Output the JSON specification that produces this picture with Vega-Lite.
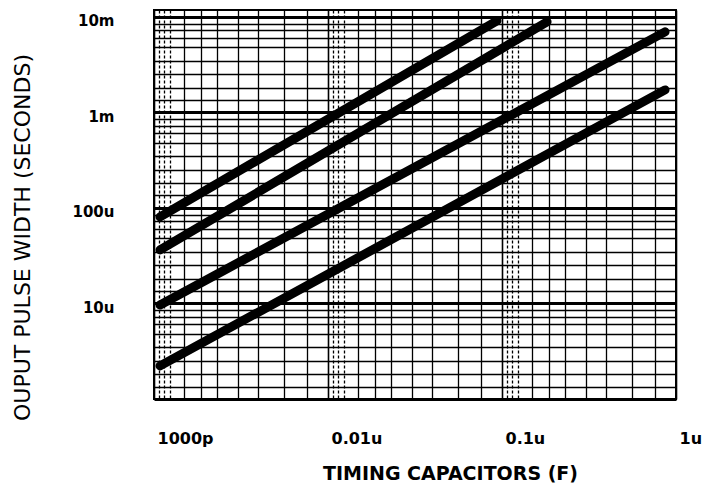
{
  "$schema": "https://vega.github.io/schema/vega-lite/v6.json",
  "width": 522,
  "height": 389,
  "autosize": {"type": "none"},
  "padding": {"left": 154, "top": 10, "right": 28, "bottom": 94},
  "background": "white",
  "config": {"view": {"stroke": "black", "strokeWidth": 2}},
  "data": {
    "values": [
      {"series": "A", "c": 1.083e-9, "t": 8.05e-5},
      {"series": "A", "c": 9.35e-8, "t": 9.08e-3},
      {"series": "B", "c": 1.083e-9, "t": 3.63e-5},
      {"series": "B", "c": 1.815e-7, "t": 8.87e-3},
      {"series": "C", "c": 1.083e-9, "t": 9.64e-6},
      {"series": "C", "c": 8.65e-7, "t": 6.97e-3},
      {"series": "D", "c": 1.083e-9, "t": 2.22e-6},
      {"series": "D", "c": 8.65e-7, "t": 1.72e-3}
    ]
  },
  "mark": {"type": "line", "color": "black", "strokeWidth": 9, "strokeCap": "round"},
  "encoding": {
    "detail": {"field": "series"},
    "x": {
      "field": "c",
      "type": "quantitative",
      "scale": {"type": "log", "domain": [1e-9, 1e-6], "nice": false},
      "axis": {
        "values": [1e-9, 1.072e-9, 1.148e-9, 1.23e-9, 1.479e-9, 1.862e-9, 2.291e-9, 3.02e-9, 3.98e-9, 5.56e-9, 7.59e-9,
                   1e-8, 1.072e-8, 1.148e-8, 1.23e-8, 1.479e-8, 1.862e-8, 2.291e-8, 3.02e-8, 3.98e-8, 5.56e-8, 7.59e-8,
                   1e-7, 1.072e-7, 1.148e-7, 1.23e-7, 1.479e-7, 1.862e-7, 2.291e-7, 3.02e-7, 3.98e-7, 5.56e-7, 7.59e-7,
                   1e-6],
        "title": "TIMING CAPACITORS (F)",
        "titleFont": "DejaVu Sans",
        "titleFontWeight": "bold",
        "titleFontSize": 19,
        "titleColor": "black",
        "titleX": 296,
        "titleY": 74,
        "titleBaseline": "middle",
        "titleAlign": "center",
        "labelExpr": "abs(log(datum.value)/LN10 - round(log(datum.value)/LN10)) < 0.003 ? (round(log(datum.value)/LN10) == -9 ? '1000p' : round(log(datum.value)/LN10) == -8 ? '0.01u' : round(log(datum.value)/LN10) == -7 ? '0.1u' : '1u') : ''",
        "labelFont": "DejaVu Sans",
        "labelFontWeight": "bold",
        "labelFontSize": 16,
        "labelColor": "black",
        "labelAlign": "left",
        "labelBaseline": "middle",
        "labelPadding": 39,
        "labelOffset": 3,
        "labelOverlap": false,
        "labelBound": false,
        "labelFlush": false,
        "ticks": false,
        "domain": false,
        "grid": true,
        "gridOpacity": 1,
        "gridColor": "black",
        "gridWidth": {"condition": {"test": "abs(log(datum.value)/LN10 - round(log(datum.value)/LN10)) < 0.003", "value": 1.6}, "value": 1.3},
        "gridDash": {"condition": {"test": "abs(log(datum.value)/LN10 - round(log(datum.value)/LN10)) >= 0.003 && datum.value / pow(10, floor(log(datum.value)/LN10 + 0.003)) < 1.3", "value": [3, 2]}, "value": []}
      }
    },
    "y": {
      "field": "t",
      "type": "quantitative",
      "scale": {"type": "log", "domain": [1e-6, 1.18e-2], "nice": false},
      "axis": {
        "values": [1e-6,
                   1.35e-6, 1.82e-6, 2.51e-6, 3.47e-6, 4.79e-6, 6.03e-6, 7.24e-6, 8.51e-6, 1e-5,
                   1.35e-5, 1.82e-5, 2.51e-5, 3.47e-5, 4.79e-5, 6.03e-5, 7.24e-5, 8.51e-5, 1e-4,
                   1.35e-4, 1.82e-4, 2.51e-4, 3.47e-4, 4.79e-4, 6.03e-4, 7.24e-4, 8.51e-4, 1e-3,
                   1.35e-3, 1.82e-3, 2.51e-3, 3.47e-3, 4.79e-3, 6.03e-3, 7.24e-3, 8.51e-3, 1e-2],
        "title": "OUPUT PULSE WIDTH (SECONDS)",
        "titleFont": "DejaVu Sans",
        "titleFontWeight": "normal",
        "titleFontSize": 22,
        "titleColor": "black",
        "titleX": -132,
        "titleY": 227,
        "titleAngle": -90,
        "titleBaseline": "middle",
        "titleAlign": "center",
        "labelExpr": "abs(log(datum.value)/LN10 - round(log(datum.value)/LN10)) < 0.003 ? (round(log(datum.value)/LN10) == -2 ? '10m' : round(log(datum.value)/LN10) == -3 ? '1m' : round(log(datum.value)/LN10) == -4 ? '100u' : round(log(datum.value)/LN10) == -5 ? '10u' : '') : ''",
        "labelFont": "DejaVu Sans",
        "labelFontWeight": "bold",
        "labelFontSize": 15,
        "labelColor": "black",
        "labelAlign": "right",
        "labelBaseline": "middle",
        "labelPadding": 40,
        "labelOffset": 4,
        "labelOverlap": false,
        "labelBound": false,
        "labelFlush": false,
        "ticks": false,
        "domain": false,
        "grid": true,
        "gridOpacity": 1,
        "gridColor": "black",
        "gridWidth": {"condition": {"test": "abs(log(datum.value)/LN10 - round(log(datum.value)/LN10)) < 0.003", "value": 3}, "value": 1.3}
      }
    }
  }
}
